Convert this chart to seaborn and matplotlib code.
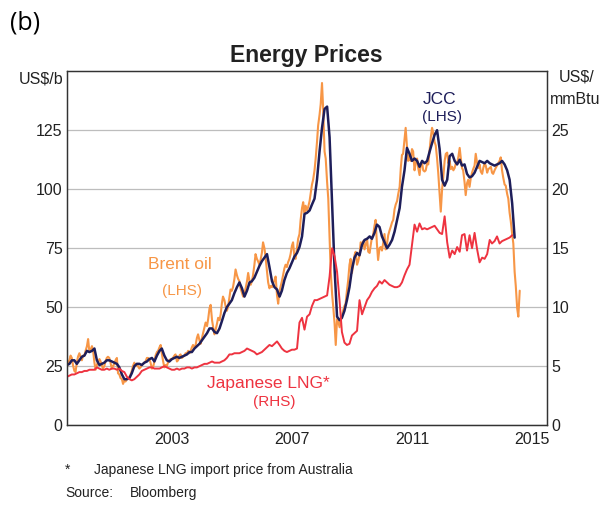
"""
plot.py
Energy prices chart: Brent oil, JCC (LHS, US$/b) and Japanese LNG (RHS, US$/mmBtu).
"""

import pandas as pd
import matplotlib
matplotlib.use('Agg')
import matplotlib.pyplot as plt
import seaborn as sns

# Brent oil, US$/b, semi-monthly (1st and 15th), Jan 2000 - Feb 2015
brent = [
    # 2000
    24.5, 26.5, 27.5, 29.5, 28.5, 25.5, 23.0, 22.5, 26.5, 29.0, 30.5, 29.0,
    27.5, 29.5, 29.5, 31.5, 33.5, 36.5, 31.0, 32.0, 33.5, 31.5, 26.5, 23.5,
    # 2001
    25.5, 27.0, 28.0, 27.0, 25.5, 24.0, 25.0, 27.0, 28.5, 29.0, 28.5, 26.5,
    24.0, 25.0, 26.0, 27.5, 28.5, 22.0, 21.5, 20.0, 19.5, 17.5, 19.0, 18.5,
    # 2002
    19.5, 20.0, 20.5, 21.5, 23.0, 25.0, 26.5, 25.0, 26.0, 25.0, 24.0, 24.5,
    25.5, 26.0, 26.5, 27.0, 28.5, 28.5, 28.0, 26.5, 24.0, 24.5, 27.0, 29.5,
    # 2003
    31.0, 31.5, 33.0, 34.0, 30.5, 27.5, 24.5, 25.5, 25.0, 26.5, 27.5, 28.0,
    28.0, 28.5, 29.5, 30.0, 27.0, 27.5, 29.5, 30.0, 28.5, 29.0, 29.5, 30.5,
    # 2004
    30.5, 31.5, 30.5, 31.5, 33.0, 34.0, 33.0, 34.0, 37.0, 38.5, 36.0, 34.5,
    37.0, 39.0, 41.5, 43.5, 42.0, 45.0, 49.5, 51.0, 44.5, 41.5, 38.5, 40.5,
    # 2005
    43.0, 45.5, 44.5, 47.0, 51.5, 54.5, 53.0, 50.5, 48.5, 50.0, 54.0, 57.5,
    57.0, 58.5, 62.0, 66.0, 63.5, 62.0, 61.0, 58.0, 56.0, 54.5, 56.0, 58.0,
    # 2006
    61.0, 64.5, 61.0, 59.5, 61.0, 63.5, 68.0, 72.5, 70.5, 69.5, 68.0, 70.0,
    73.0, 77.5, 75.0, 71.0, 65.0, 60.5, 58.0, 59.0, 58.5, 60.0, 61.5, 63.0,
    # 2007
    55.0, 51.5, 57.0, 59.0, 61.0, 63.5, 66.5, 68.0, 67.0, 69.0, 70.5, 72.5,
    76.0, 77.5, 71.0, 70.5, 75.0, 79.0, 81.0, 87.0, 92.0, 94.5, 90.0, 93.0,
    # 2008
    91.0, 92.5, 95.0, 98.5, 102.0, 104.0, 108.0, 113.0, 120.0, 127.0, 131.5, 136.0,
    145.0, 134.0, 116.0, 113.0, 103.0, 96.0, 80.0, 65.0, 55.5, 50.0, 43.0, 34.0,
    # 2009
    45.0, 44.0, 41.5, 44.5, 46.0, 48.5, 50.5, 51.5, 57.0, 61.0, 68.0, 70.5,
    64.5, 67.5, 72.0, 73.5, 68.0, 69.5, 72.0, 77.5, 77.0, 78.0, 74.5, 76.5,
    # 2010
    79.0, 73.5, 73.0, 76.5, 79.5, 80.5, 84.5, 87.0, 76.5, 70.0, 75.0, 75.5,
    74.0, 77.0, 81.0, 74.5, 77.0, 80.5, 82.5, 84.0, 86.0, 87.0, 91.5, 93.5,
    # 2011
    95.0, 98.0, 101.0, 109.0, 114.5, 115.0, 121.0, 126.0, 118.0, 112.0, 114.0, 112.0,
    117.0, 116.0, 108.0, 111.0, 113.0, 109.0, 106.0, 110.5, 111.0, 108.0, 107.5, 108.0,
    # 2012
    111.0, 110.5, 117.0, 122.0, 126.0, 124.0, 120.0, 118.5, 113.0, 107.0, 98.0, 90.5,
    100.0, 105.0, 112.0, 115.0, 115.5, 111.0, 112.0, 108.5, 109.5, 108.0, 109.0, 111.0,
    # 2013
    111.0, 113.5, 117.5, 113.0, 109.0, 108.0, 103.0, 97.5, 102.5, 104.0, 101.0, 104.5,
    107.0, 108.5, 110.0, 115.0, 111.0, 109.0, 110.5, 107.5, 106.5, 109.0, 111.0, 110.0,
    # 2014
    107.0, 108.5, 109.0, 109.5, 107.0, 106.5, 108.0, 109.0, 110.0, 111.0, 112.0, 113.5,
    108.0, 105.0, 102.0, 101.5, 98.0, 96.0, 90.0, 86.5, 81.0, 77.0, 65.0, 59.0,
    # 2015
    49.5, 46.0, 57.0,
]

# JCC, US$/b, monthly, Jan 2000 - Dec 2014
jcc = [
    25.5, 26.0, 27.5, 27.5, 26.0, 27.5, 29.0, 29.5, 31.5, 31.0, 31.5, 32.5,
    27.5, 25.5, 26.0, 26.5, 27.5, 27.5, 27.0, 26.5, 26.0, 24.5, 21.5, 19.5,
    19.5, 20.0, 22.0, 25.0, 26.0, 26.0, 25.5, 26.5, 27.0, 28.0, 28.5, 27.0,
    29.5, 31.5, 32.5, 29.5, 27.5, 27.0, 28.0, 28.5, 29.0, 28.5, 29.0, 29.5,
    30.0, 31.0, 31.0, 32.5, 33.5, 34.5, 36.0, 37.5, 39.0, 41.0, 41.0, 39.5,
    39.0, 41.0, 44.0, 47.5, 50.0, 51.5, 53.0, 56.0, 58.5, 60.5, 58.0, 54.5,
    57.0, 60.5, 61.0, 62.5, 65.0, 67.5, 69.5, 71.0, 72.5, 67.0, 61.0, 58.5,
    57.5, 54.5, 57.0, 61.5, 64.5, 66.5, 69.0, 71.5, 73.0, 75.5, 80.0, 89.5,
    90.0, 91.0, 93.5, 96.0, 104.0, 116.0, 126.0, 134.0, 135.0, 122.0, 94.0, 66.0,
    46.0, 44.5, 45.5, 48.5, 53.0, 58.5, 66.0, 71.0, 73.0, 72.0, 76.5, 78.5,
    79.0, 80.0, 79.0, 81.5, 85.0, 84.0, 80.0, 77.5, 75.0, 76.5, 78.5, 82.0,
    87.0, 92.0, 101.0, 108.0, 117.5, 115.0, 112.0, 113.0, 112.0, 109.5, 112.0, 111.0,
    112.0, 116.0, 119.5, 123.0, 125.0, 117.0, 104.0, 101.5, 104.0, 114.0, 115.0, 112.0,
    110.5, 112.5, 110.0, 110.5, 106.5, 105.0, 105.5, 107.0, 109.5, 112.0, 111.5, 111.0,
    112.0, 111.0, 110.5, 110.0, 110.5, 111.0, 112.0, 110.5, 108.0, 104.0, 94.0, 79.5,
]

# Japanese LNG import price from Australia, US$/mmBtu, monthly, Jan 2000 - Nov 2014
lng = [
    4.1, 4.2, 4.3, 4.3, 4.4, 4.5, 4.5, 4.6, 4.6, 4.7, 4.7, 4.7,
    4.9, 4.8, 4.7, 4.7, 4.8, 4.7, 4.8, 4.8, 4.7, 4.8, 4.6, 4.5,
    4.1, 3.9, 3.8, 3.9, 4.1, 4.3, 4.6, 4.7, 4.8, 4.9, 4.9, 4.8,
    4.8, 4.8, 4.9, 5.0, 4.9, 4.8, 4.7, 4.7, 4.8, 4.7, 4.8, 4.8,
    4.9, 4.9, 4.8, 4.9, 4.9, 5.0, 5.1, 5.2, 5.2, 5.3, 5.4, 5.3,
    5.3, 5.3, 5.4, 5.5, 5.7, 6.0, 6.0, 6.1, 6.1, 6.1, 6.2, 6.3,
    6.5, 6.4, 6.3, 6.2, 6.0, 6.1, 6.2, 6.4, 6.6, 6.8, 6.7, 6.9,
    7.1, 6.8, 6.5, 6.3, 6.2, 6.3, 6.4, 6.4, 6.5, 8.7, 9.1, 8.1,
    9.2, 9.4, 10.1, 10.6, 10.6, 10.7, 10.8, 10.9, 11.0, 12.6, 15.0, 14.3,
    13.0, 10.5, 7.9, 7.0, 6.8, 6.9, 7.6, 7.8, 8.0, 10.6, 9.4, 10.0,
    10.6, 10.9, 11.3, 11.6, 11.8, 12.2, 12.0, 12.3, 12.1, 11.9, 11.8, 11.7,
    11.7, 11.8, 12.1, 12.7, 13.2, 13.6, 15.3, 17.0, 16.4, 17.1, 16.6, 16.7,
    16.6, 16.7, 16.8, 16.9, 16.6, 16.3, 16.2, 17.7, 15.5, 14.2, 14.8, 14.5,
    15.1, 14.7, 16.1, 16.2, 14.8, 16.1, 15.0, 16.3, 14.9, 13.8, 14.2, 14.1,
    14.5, 15.7, 15.4, 15.6, 16.0, 15.4, 15.6, 15.7, 15.8, 15.9, 16.1,
]

LHS_TICKS = [0, 25, 50, 75, 100, 125]
RHS_TICKS = [0, 5, 10, 15, 20, 25]
YEAR_LABELS = [2003, 2007, 2011, 2015]

BRENT_COLOR = '#F79646'
JCC_COLOR = '#1E1E5A'
LNG_COLOR = '#EE3340'
TEXT_COLOR = '#222222'


def decimal_year(dates):
    """Convert a DatetimeIndex to fractional years."""
    return dates.year + (dates.dayofyear - 1) / 365.0


brent_dates = pd.date_range('2000-01-01', periods=len(brent), freq='SMS')
jcc_dates = pd.date_range('2000-01-01', periods=len(jcc), freq='MS')
lng_dates = pd.date_range('2000-01-01', periods=len(lng), freq='MS')

df_brent = pd.DataFrame({'t': decimal_year(brent_dates), 'price': brent})
df_jcc = pd.DataFrame({'t': decimal_year(jcc_dates), 'price': jcc})
df_lng = pd.DataFrame({'t': decimal_year(lng_dates), 'price': lng})

sns.set_theme(style='white')
plt.rcParams['font.family'] = ['Liberation Sans', 'DejaVu Sans']

fig = plt.figure(figsize=(6.08, 5.05), dpi=100)
ax = fig.add_axes([0.110, 0.158, 0.790, 0.701])
ax2 = ax.twinx()

sns.lineplot(data=df_brent, x='t', y='price', ax=ax, color=BRENT_COLOR,
             linewidth=1.5, estimator=None)
sns.lineplot(data=df_jcc, x='t', y='price', ax=ax, color=JCC_COLOR,
             linewidth=1.8, estimator=None)
sns.lineplot(data=df_lng, x='t', y='price', ax=ax2, color=LNG_COLOR,
             linewidth=1.4, estimator=None)

# axes limits and grid
ax.set_xlim(2000, 2016)
ax.set_ylim(0, 150)
ax2.set_ylim(0, 30)
ax.set_yticks(LHS_TICKS)
ax2.set_yticks(RHS_TICKS)
ax.set_yticklabels([str(v) for v in LHS_TICKS], fontsize=11.5, color=TEXT_COLOR)
ax2.set_yticklabels([str(v) for v in RHS_TICKS], fontsize=11.5, color=TEXT_COLOR)
ax.tick_params(axis='y', length=0, pad=3)
ax2.tick_params(axis='y', length=0, pad=3)
ax.grid(axis='y', color='#BDBDBD', linewidth=0.9)
ax.set_axisbelow(True)

# year ticks at boundaries, labels centred on years
ax.set_xticks(list(range(2000, 2017)))
ax.set_xticklabels([])
ax.tick_params(axis='x', which='major', direction='in', length=5,
               width=0.8, color='#333333')
ax.set_xticks([y + 0.5 for y in YEAR_LABELS], minor=True)
ax.set_xticklabels([str(y) for y in YEAR_LABELS], minor=True,
                   fontsize=11.5, color=TEXT_COLOR)
ax.tick_params(axis='x', which='minor', length=0, pad=5)

ax.set_xlabel('')
ax.set_ylabel('')
ax2.set_ylabel('')
for a in (ax, ax2):
    for sp in a.spines.values():
        sp.set_color('#333333')
        sp.set_linewidth(0.9)

# titles and unit labels
fig.text(0.016, 0.954, '(b)', fontsize=18, color='black', va='center',
         family=['Open Sans', 'DejaVu Sans'])
fig.text(0.504, 0.891, 'Energy Prices', fontsize=16.5, fontweight='bold',
         ha='center', va='center', color=TEXT_COLOR)
fig.text(0.104, 0.844, 'US$/b', fontsize=11.5, ha='right', va='center',
         color=TEXT_COLOR)
fig.text(0.948, 0.847, 'US$/', fontsize=11.5, ha='center', va='center',
         color=TEXT_COLOR)
fig.text(0.946, 0.802, 'mmBtu', fontsize=11.5, ha='center', va='center',
         color=TEXT_COLOR)

# series labels
ax.text(2003.76, 68, 'Brent oil', fontsize=12.5, color=BRENT_COLOR,
        ha='center', va='center')
ax.text(2003.83, 57, '(LHS)', fontsize=11, color=BRENT_COLOR,
        ha='center', va='center')
ax.text(2012.42, 137.8, 'JCC', fontsize=12.5, color=JCC_COLOR,
        ha='center', va='center')
ax.text(2012.5, 130.8, '(LHS)', fontsize=11, color=JCC_COLOR,
        ha='center', va='center')
ax.text(2006.7, 17.8, 'Japanese LNG*', fontsize=12.5, color=LNG_COLOR,
        ha='center', va='center')
ax.text(2006.9, 9.9, '(RHS)', fontsize=11, color=LNG_COLOR,
        ha='center', va='center')

# footnotes
fig.text(0.107, 0.069, '*', fontsize=10, color=TEXT_COLOR, va='center')
fig.text(0.155, 0.069, 'Japanese LNG import price from Australia',
         fontsize=10, color=TEXT_COLOR, va='center')
fig.text(0.107, 0.024, 'Source:', fontsize=10, color=TEXT_COLOR,
         va='center')
fig.text(0.213, 0.024, 'Bloomberg', fontsize=10, color=TEXT_COLOR,
         va='center')

plt.savefig('out.png', dpi=100)
